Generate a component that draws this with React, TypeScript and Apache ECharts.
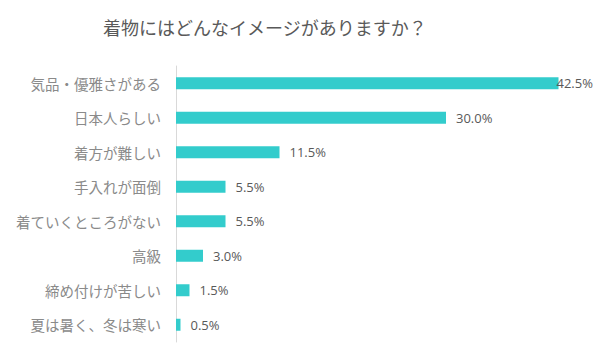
import React, { useEffect, useRef } from "react";
import * as echarts from "echarts";

const categories = [
  "気品・優雅さがある",
  "日本人らしい",
  "着方が難しい",
  "手入れが面倒",
  "着ていくところがない",
  "高級",
  "締め付けが苦しい",
  "夏は暑く、冬は寒い",
];
const values = [42.5, 30.0, 11.5, 5.5, 5.5, 3.0, 1.5, 0.5];
const titleText = "着物にはどんなイメージがありますか？";

export default function App() {
  const ref = useRef<HTMLDivElement>(null);
  useEffect(() => {
    if (!ref.current) return;
    const chart = echarts.init(ref.current, undefined, { renderer: "svg" });
    chart.setOption({
      animation: false,
      backgroundColor: "#ffffff",
      title: {
        text: titleText,
        left: 98,
        top: 13,
        textStyle: {
          fontFamily: "Noto Sans CJK JP",
          fontSize: 18,
          fontWeight: "normal",
          color: "#595959",
        },
      },
      grid: { left: 176, width: 405, top: 66, height: 276 },
      xAxis: {
        type: "value",
        min: 0,
        max: 45,
        show: false,
      },
      yAxis: {
        type: "category",
        data: categories,
        inverse: true,
        axisTick: { show: false },
        axisLine: { show: true, lineStyle: { color: "#d9d9d9", width: 1 } },
        axisLabel: {
          margin: 15,
          fontFamily: "Noto Sans CJK JP",
          fontSize: 14.5,
          color: "#8a8a8a",
        },
      },
      series: [
        {
          type: "bar",
          barWidth: 12,
          itemStyle: { color: "#33CCCC" },
          data: values.map((v, i) =>
            i === 0 ? { value: v, label: { distance: -2 } } : { value: v }
          ),
          label: {
            show: true,
            position: "right",
            distance: 10,
            fontFamily: "Open Sans",
            fontSize: 13,
            color: "#595959",
            formatter: (p: any) => p.value.toFixed(1) + "%",
          },
        },
      ],
    });
    return () => chart.dispose();
  }, []);
  return <div ref={ref} style={{ width: 600, height: 360, position: "absolute", left: 0, top: 0 }} />;
}
